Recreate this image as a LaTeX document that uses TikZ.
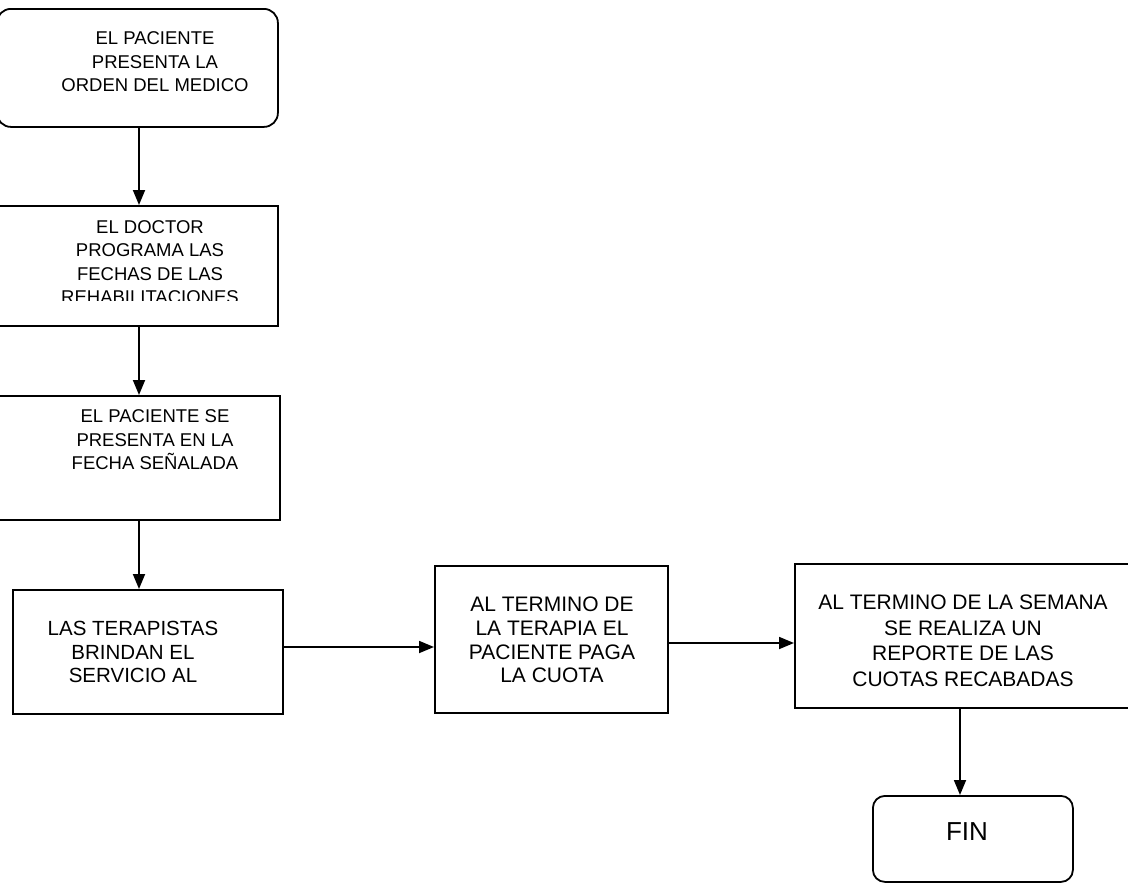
\documentclass[tikz,border=0pt]{standalone}
\usepackage{fontspec}
\setmainfont{Liberation Sans}
\usetikzlibrary{arrows.meta}
\tikzset{
  box/.style={draw, line width=1.8pt, inner sep=0pt, anchor=north west},
  rbox/.style={box, rounded corners=14pt},
  txt/.style={align=center, inner sep=0pt, font=\fontsize{21}{23.8}\selectfont},
  smalltxt/.style={align=center, inner sep=0pt, font=\fontsize{18.5}{23.6}\selectfont},
  bigtxt/.style={align=center, inner sep=0pt, font=\fontsize{26}{30}\selectfont},
  arr/.style={line width=1.8pt, -{Triangle[length=15pt,width=12pt]}}
}
\begin{document}
\begin{tikzpicture}[x=1pt,y=-1pt]
\useasboundingbox (0,0) rectangle (1128,886);
% boxes
\node[rbox, minimum width=281pt, minimum height=118pt] (b1) at (-4,8) {};
\node[box, minimum width=281pt, minimum height=120pt] (b2) at (-4,205) {};
\node[box, minimum width=283pt, minimum height=124pt] (b3) at (-4,395) {};
\node[box, minimum width=270pt, minimum height=124pt] (b4) at (12,589) {};
\node[box, minimum width=233pt, minimum height=147pt] (b5) at (434,565) {};
\node[box, minimum width=345pt, minimum height=144pt] (b6) at (794,563) {};
\node[rbox, rounded corners=12pt, minimum width=200pt, minimum height=86pt] (b7) at (872,795) {};
% texts
\node[smalltxt] (t1) at (155,62) {EL PACIENTE\\PRESENTA LA\\ORDEN DEL MEDICO};
\begin{scope}
  \clip (0,206) rectangle (276,300);
  \node[smalltxt, anchor=north] (t2) at (150,220) {EL DOCTOR\\PROGRAMA LAS\\FECHAS DE LAS\\REHABILITACIONES};
\end{scope}
\node[smalltxt] (t3) at (155,440) {EL PACIENTE SE\\PRESENTA EN LA\\FECHA SEÑALADA};
\node[txt, font=\fontsize{20.5}{23.3}\selectfont] (t4) at (133,652) {LAS TERAPISTAS\\BRINDAN EL\\SERVICIO AL};
\node[txt] (t5) at (552,640) {AL TERMINO DE\\LA TERAPIA EL\\PACIENTE PAGA\\LA CUOTA};
\node[txt, font=\fontsize{21}{25.5}\selectfont] (t6) at (963,641) {AL TERMINO DE LA SEMANA\\SE REALIZA UN\\REPORTE DE LAS\\CUOTAS RECABADAS};
\node[bigtxt] (t7) at (967,832) {FIN};
% connectors
\coordinate (vx) at (139,0);
\coordinate (vy1) at (0,647);
\coordinate (vy2) at (0,643);
\coordinate (vx2) at (960,0);
\draw[arr] (b1.south -| vx) -- (b2.north -| vx);
\draw[arr] (b2.south -| vx) -- (b3.north -| vx);
\draw[arr] (b3.south -| vx) -- (b4.north -| vx);
\draw[arr] (b4.east |- vy1) -- (b5.west |- vy1);
\draw[arr] (b5.east |- vy2) -- (b6.west |- vy2);
\draw[arr] (b6.south -| vx2) -- (b7.north -| vx2);
\end{tikzpicture}
\end{document}
